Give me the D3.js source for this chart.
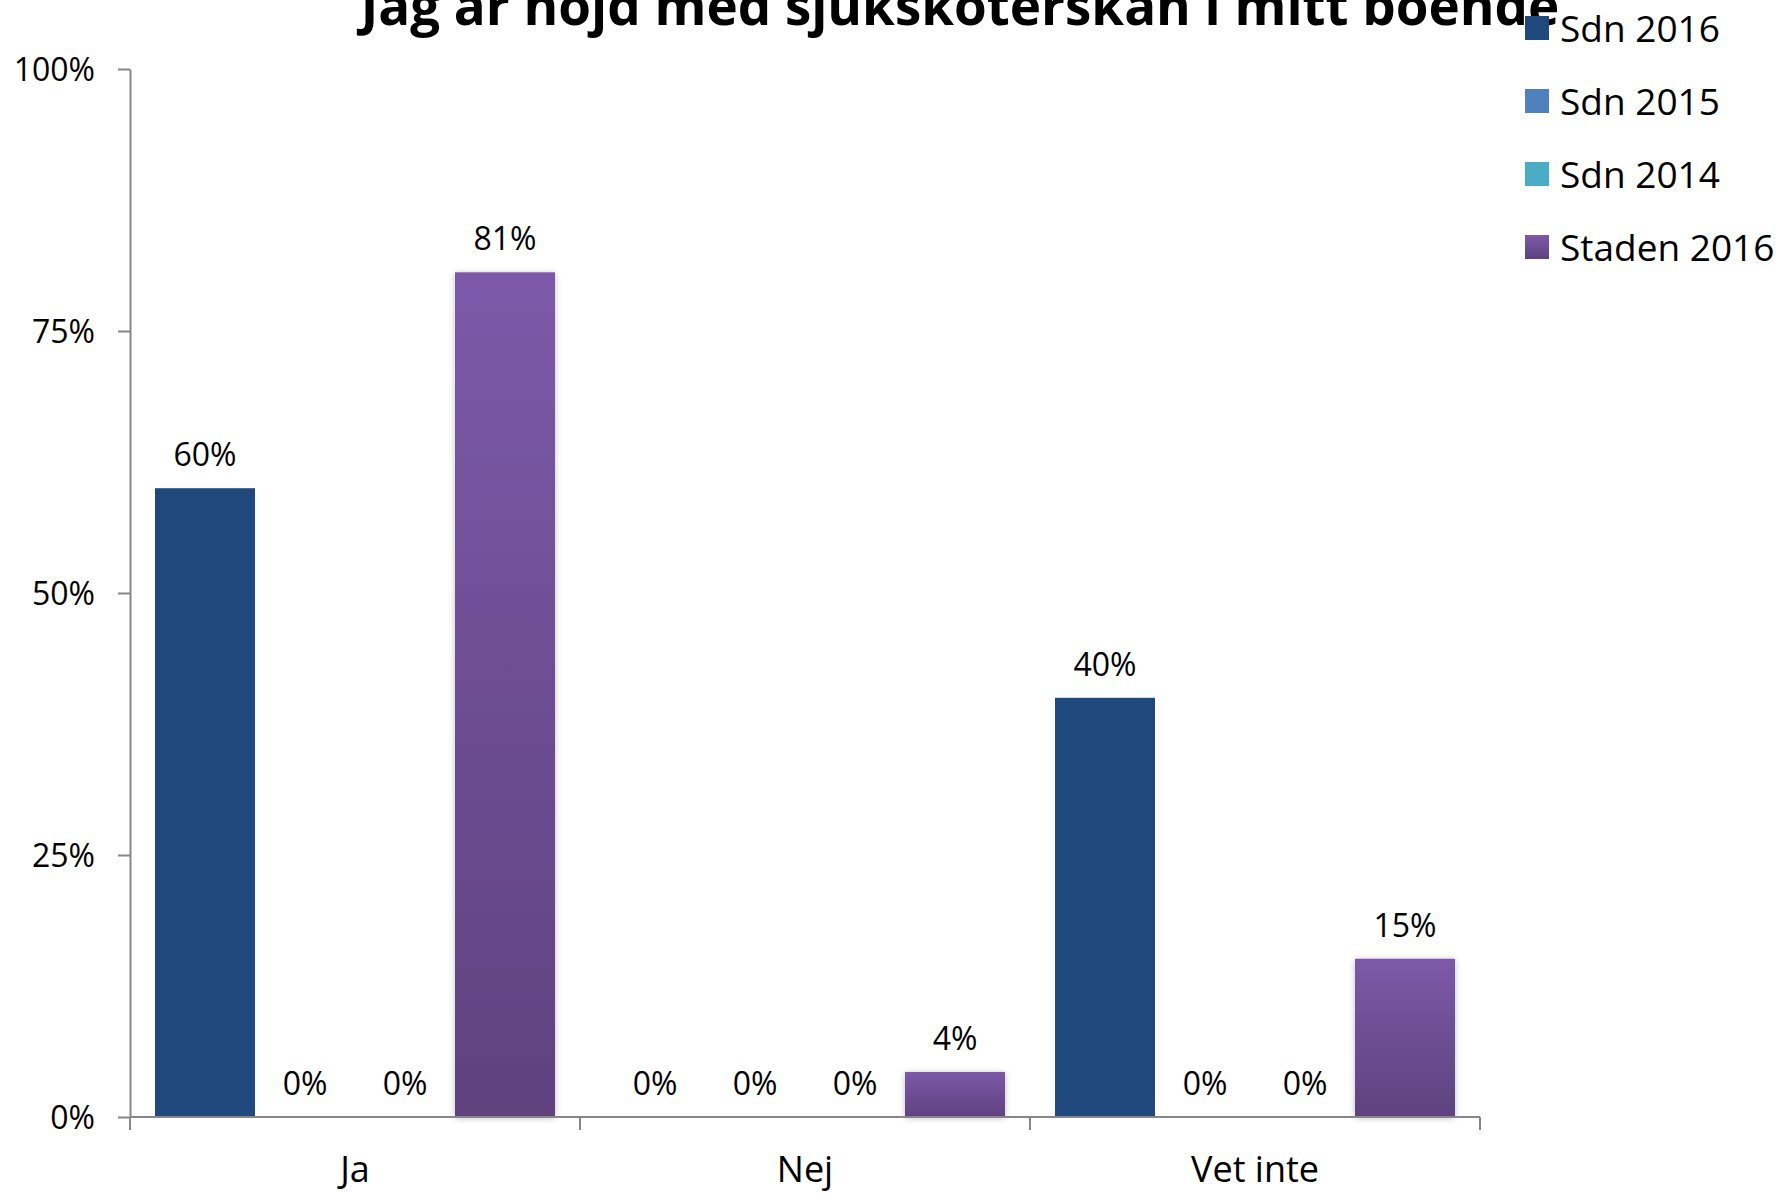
<!DOCTYPE html>
<html>
<head>
<meta charset="utf-8">
<script src="https://cdn.jsdelivr.net/npm/d3@7"></script>
<style>
    body { margin: 0; background: #fff; }
    text { font-family: "Open Sans", sans-serif; fill: #000; }
</style>
</head>
<body>
<div id="chart"></div>
<script>
const titleText = "Jag är nöjd med sjuksköterskan i mitt boende"
const categories = ["Ja", "Nej", "Vet inte"]
const seriesNames = ["Sdn 2016", "Sdn 2015", "Sdn 2014", "Staden 2016"]
const sdn2016 = [0.60, 0, 0.40]
const sdn2015 = [0, 0, 0]
const sdn2014 = [0, 0, 0]
const staden2016 = [0.806, 0.043, 0.151]
const yTicks = [0, 0.25, 0.5, 0.75, 1]
const seriesColors = ["#1f497d", "#4f81bd", "#4bacc6", "url(#purple-grad)"]

function drawChart() {
    const seriesValues = [sdn2016, sdn2015, sdn2014, staden2016]
    const dataset = []
    categories.forEach((c, ci) => {
        seriesNames.forEach((s, si) => {
            dataset.push({ category: c, series: s, value: seriesValues[si][ci], si: si })
        })
    })

    let dimensions = {
        width: 1779,
        height: 1193,
        margin: {
            top: 69,
            right: 299,
            bottom: 76,
            left: 130,
        },
    }
    dimensions.boundedWidth = dimensions.width - dimensions.margin.left - dimensions.margin.right
    dimensions.boundedHeight = dimensions.height - dimensions.margin.top - dimensions.margin.bottom

    const wrapper = d3.select("#chart").append("svg")
        .attr("width", dimensions.width)
        .attr("height", dimensions.height)

    const defs = wrapper.append("defs")
    const grad = defs.append("linearGradient")
        .attr("id", "purple-grad")
        .attr("x1", 0).attr("y1", 0).attr("x2", 0).attr("y2", 1)
    grad.append("stop").attr("offset", "0%").attr("stop-color", "#7d59a9")
    grad.append("stop").attr("offset", "100%").attr("stop-color", "#5e427e")

    const shadow = defs.append("filter")
        .attr("id", "bar-shadow")
        .attr("x", "-20%").attr("y", "-20%")
        .attr("width", "140%").attr("height", "140%")
    shadow.append("feDropShadow")
        .attr("dx", 0).attr("dy", 1)
        .attr("stdDeviation", 3)
        .attr("flood-color", "#000")
        .attr("flood-opacity", 0.25)

    const bounds = wrapper.append("g")
        .attr("transform", `translate(${dimensions.margin.left}, ${dimensions.margin.top})`)

    // scales
    const x0Scale = d3.scaleBand()
        .domain(categories)
        .range([0, dimensions.boundedWidth])
        .padding(0)

    const x1Scale = d3.scaleBand()
        .domain(seriesNames)
        .range([0, x0Scale.bandwidth()])
        .paddingInner(0)
        .paddingOuter(0.25)

    const yScale = d3.scaleLinear()
        .domain([0, 1])
        .range([dimensions.boundedHeight, 0])

    // bars
    const bars = bounds.append("g")
        .selectAll("rect")
        .data(dataset.filter(d => d.value > 0))
        .join("rect")
        .attr("x", d => x0Scale(d.category) + x1Scale(d.series))
        .attr("y", d => yScale(d.value))
        .attr("width", x1Scale.bandwidth())
        .attr("height", d => dimensions.boundedHeight - yScale(d.value))
        .attr("fill", d => seriesColors[d.si])
        .attr("filter", d => d.si == 3 ? "url(#bar-shadow)" : null)

    // value labels
    const formatPct = d3.format(".0%")
    bounds.append("g")
        .selectAll("text")
        .data(dataset)
        .join("text")
        .attr("x", d => x0Scale(d.category) + x1Scale(d.series) + x1Scale.bandwidth() / 2)
        .attr("y", d => yScale(d.value) - 22)
        .attr("text-anchor", "middle")
        .style("font-size", "32px")
        .text(d => formatPct(d.value))

    // y axis
    const yAxisGenerator = d3.axisLeft()
        .scale(yScale)
        .tickValues(yTicks)
        .tickFormat(formatPct)
        .tickSize(12)
        .tickSizeOuter(0)
        .tickPadding(23)

    const yAxis = bounds.append("g")
        .call(yAxisGenerator)
        .attr("font-family", null)
        .attr("font-size", null)
    yAxis.selectAll("line, path").attr("stroke", "#878787").attr("stroke-width", 2)
    yAxis.selectAll("text")
        .attr("dy", "0.36em")
        .style("font-size", "32px")

    // x axis
    const xAxis = bounds.append("g")
        .attr("transform", `translate(0, ${dimensions.boundedHeight})`)
    xAxis.append("line")
        .attr("x1", 0)
        .attr("x2", dimensions.boundedWidth)
        .attr("stroke", "#878787")
        .attr("stroke-width", 2)
    const boundaries = categories.map(c => x0Scale(c)).concat([x0Scale(categories[categories.length - 1]) + x0Scale.bandwidth()])
    xAxis.selectAll(".tick-mark")
        .data(boundaries)
        .join("line")
        .attr("class", "tick-mark")
        .attr("x1", d => d).attr("x2", d => d)
        .attr("y1", 0).attr("y2", 13)
        .attr("stroke", "#878787")
        .attr("stroke-width", 2)
    xAxis.selectAll(".cat-label")
        .data(categories)
        .join("text")
        .attr("class", "cat-label")
        .attr("x", d => x0Scale(d) + x0Scale.bandwidth() / 2)
        .attr("y", 65)
        .attr("text-anchor", "middle")
        .style("font-size", "36px")
        .text(d => d)

    // title
    const title = wrapper.append("text")
        .attr("x", 960)
        .attr("y", 25)
        .attr("text-anchor", "middle")
        .style("font-weight", "bold")
        .style("font-size", "50px")
        .text(titleText)
    const titleWidth = title.node().getComputedTextLength()
    title.style("font-size", `${50 * 1199 / titleWidth}px`)

    // legend
    const legend = wrapper.append("g")
        .attr("transform", "translate(1525, 16)")
    const legendItems = legend.selectAll("g")
        .data(seriesNames)
        .join("g")
        .attr("transform", (d, i) => `translate(0, ${i * 73})`)
    legendItems.append("rect")
        .attr("width", 24)
        .attr("height", 24)
        .attr("fill", (d, i) => seriesColors[i])
    legendItems.append("text")
        .attr("x", 35)
        .attr("y", 26)
        .style("font-size", "37px")
        .text(d => d)
}
drawChart()
</script>
</body>
</html>
